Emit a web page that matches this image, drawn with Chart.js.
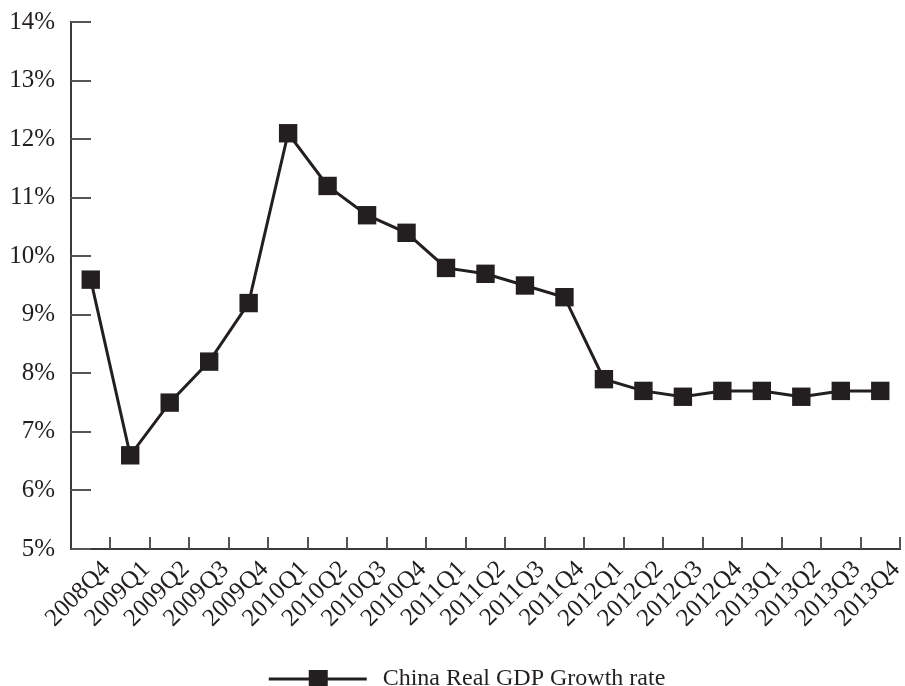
<!DOCTYPE html>
<html>
<head>
<meta charset="utf-8">
<script src="https://cdn.jsdelivr.net/npm/chart.js@4.4.0/dist/chart.umd.min.js"></script>
<style>
  html, body { margin: 0; padding: 0; background: #fff; }
  #wrap { width: 905px; height: 686px; }
</style>
</head>
<body>
<div id="wrap"><canvas id="gdpChart" width="905" height="686"></canvas></div>
<script>
// data
const quarters = [
  "2008Q4", "2009Q1", "2009Q2", "2009Q3", "2009Q4",
  "2010Q1", "2010Q2", "2010Q3", "2010Q4",
  "2011Q1", "2011Q2", "2011Q3", "2011Q4",
  "2012Q1", "2012Q2", "2012Q3", "2012Q4",
  "2013Q1", "2013Q2", "2013Q3", "2013Q4"
];
const growthRate = [9.6, 6.6, 7.5, 8.2, 9.2, 12.1, 11.2, 10.7, 10.4, 9.8, 9.7, 9.5, 9.3, 7.9, 7.7, 7.6, 7.7, 7.7, 7.6, 7.7, 7.7];
const seriesName = "China Real GDP Growth rate";
const yMin = 5;
const yMax = 14;
const yStep = 1;

const ink = "#231f20";
const axisColor = "#3a3a3a";
const serif = { family: "'Liberation Serif', 'DejaVu Serif', serif", size: 24 };
const tickFont = { family: "'Liberation Serif', 'DejaVu Serif', serif", size: 25 };

// legend swatch: line with a square marker in the middle
// (blank strip on the left nudges the centred legend item to the right)
function makeSwatch() {
  const c = document.createElement("canvas");
  c.width = 136;
  c.height = 22;
  const g = c.getContext("2d");
  g.strokeStyle = ink;
  g.lineWidth = 3;
  g.beginPath();
  g.moveTo(34, 11);
  g.lineTo(132, 11);
  g.stroke();
  g.fillStyle = ink;
  g.fillRect(74, 2, 19, 19);
  return c;
}
const legendSwatch = makeSwatch();

// tick marks pointing into the plot area
const innerTicks = {
  id: "innerTicks",
  beforeDatasetsDraw(chart) {
    const { ctx, chartArea, scales: { x, y } } = chart;
    ctx.save();
    ctx.strokeStyle = "#555";
    ctx.lineWidth = 2;
    ctx.beginPath();
    y.ticks.forEach(t => {
      const py = Math.round(y.getPixelForValue(t.value));
      ctx.moveTo(chartArea.left, py);
      ctx.lineTo(chartArea.left + 20, py);
    });
    for (let i = 1; i <= quarters.length; i++) {
      const px = Math.round(x.getPixelForValue(i - 0.5));
      ctx.moveTo(px, chartArea.bottom);
      ctx.lineTo(px, chartArea.bottom - 12);
    }
    ctx.stroke();
    ctx.restore();
  }
};

new Chart(document.getElementById("gdpChart").getContext("2d"), {
  type: "line",
  data: {
    labels: quarters,
    datasets: [{
      label: seriesName,
      data: growthRate,
      borderColor: ink,
      borderWidth: 3,
      backgroundColor: ink,
      pointStyle: "rect",
      pointRadius: 13,
      pointBorderWidth: 0,
      tension: 0,
      fill: false
    }]
  },
  options: {
    responsive: false,
    animation: false,
    layout: { autoPadding: false, padding: { left: 0, right: 5, top: 22, bottom: -15 } },
    scales: {
      x: {
        offset: true,
        grid: { display: false, drawTicks: false },
        border: { color: axisColor, width: 2 },
        ticks: {
          font: tickFont,
          color: ink,
          autoSkip: false,
          minRotation: 45,
          maxRotation: 45,
          labelOffset: 16,
          padding: 6
        },
        afterFit(scale) {
          scale.height = 110;
          scale.paddingLeft = 0;
          scale.paddingRight = 0;
        }
      },
      y: {
        min: yMin,
        max: yMax,
        grid: { display: false, drawTicks: false },
        border: { color: axisColor, width: 2 },
        ticks: {
          stepSize: yStep,
          font: tickFont,
          color: ink,
          padding: 16,
          callback: v => v + "%"
        },
        afterFit(scale) {
          scale.width = 71;
          scale.paddingTop = 0;
          scale.paddingBottom = 0;
        }
      }
    },
    plugins: {
      legend: {
        position: "bottom",
        labels: {
          usePointStyle: true,
          pointStyleWidth: 136,
          font: serif,
          color: ink,
          padding: 8,
          generateLabels(chart) {
            const ds = chart.data.datasets[0];
            return [{
              text: ds.label,
              pointStyle: legendSwatch,
              fillStyle: ink,
              strokeStyle: ink,
              lineWidth: 0,
              fontColor: ink,
              hidden: false,
              datasetIndex: 0
            }];
          }
        }
      },
      tooltip: { enabled: false }
    }
  },
  plugins: [innerTicks]
});
</script>
</body>
</html>
